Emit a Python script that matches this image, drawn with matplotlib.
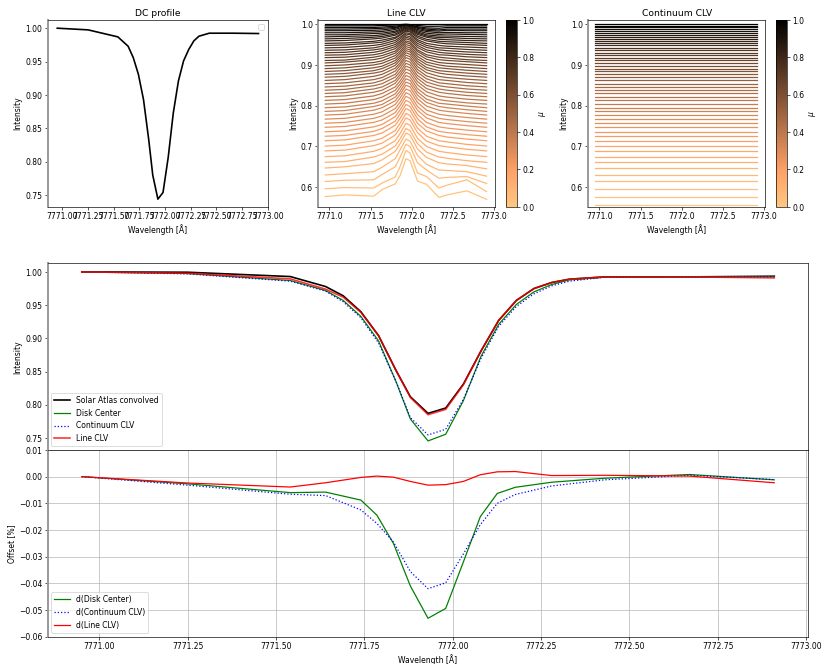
import numpy as np
import matplotlib
matplotlib.use("Agg")
import matplotlib.pyplot as plt

plt.rcParams['font.size'] = 9.3
plt.rcParams['legend.fontsize'] = 9.3
plt.rcParams['axes.labelpad'] = 3.2
plt.rcParams['axes.titlepad'] = 5.0
plt.rcParams['xtick.major.size'] = 3.2
plt.rcParams['ytick.major.size'] = 3.2
plt.rcParams['xtick.major.pad'] = 3.2
plt.rcParams['ytick.major.pad'] = 3.2

W = 830.0
H = 664.0

# ---- spectra ----
wave = [7770.95, 7771.25, 7771.54, 7771.64, 7771.69, 7771.74, 7771.79, 7771.84, 7771.88, 7771.93, 7771.98,
        7772.03, 7772.08, 7772.13, 7772.18, 7772.23, 7772.28, 7772.33, 7772.43, 7772.67, 7772.91]
dc_profile = [1.0, 0.9975, 0.987, 0.973, 0.956, 0.931, 0.893, 0.834, 0.780, 0.744, 0.754,
              0.806, 0.873, 0.921, 0.951, 0.968, 0.981, 0.988, 0.9925, 0.9925, 0.992]
atlas = [1.0, 0.9995, 0.993, 0.978, 0.964, 0.940, 0.904, 0.851, 0.812, 0.787, 0.795,
         0.831, 0.881, 0.927, 0.957, 0.975, 0.984, 0.989, 0.9925, 0.9925, 0.9935]
disk = [1.0, 0.9975, 0.987, 0.972, 0.957, 0.933, 0.896, 0.834, 0.7785, 0.7455, 0.7555,
        0.806, 0.873, 0.921, 0.951, 0.970, 0.981, 0.988, 0.992, 0.9925, 0.993]
cont = [1.0, 0.997, 0.986, 0.971, 0.955, 0.931, 0.893, 0.834, 0.7806, 0.7545, 0.763,
        0.808, 0.870, 0.918, 0.948, 0.967, 0.979, 0.986, 0.992, 0.9925, 0.993]
line = [1.0, 0.998, 0.9895, 0.974, 0.962, 0.939, 0.904, 0.851, 0.811, 0.785, 0.793,
        0.830, 0.881, 0.927, 0.957, 0.975, 0.984, 0.989, 0.9925, 0.9925, 0.991]

# ---- offsets from the lower panel ----
wave_d = [7770.95, 7771.25, 7771.54, 7771.64, 7771.74, 7771.785, 7771.832, 7771.88, 7771.93, 7771.98,
          7772.03, 7772.078, 7772.126, 7772.177, 7772.28, 7772.43, 7772.67, 7772.91]
d_disk = [0.0, -0.0027, -0.0060, -0.0058, -0.0088, -0.0144, -0.0250, -0.0410, -0.0531, -0.0494,
          -0.0320, -0.0150, -0.0063, -0.0040, -0.0021, -0.0006, 0.0008, -0.0012]
d_cont = [0.0, -0.0032, -0.0066, -0.0071, -0.0125, -0.0175, -0.0245, -0.0356, -0.0420, -0.0398,
          -0.0290, -0.0180, -0.0100, -0.0067, -0.0035, -0.0012, 0.0005, -0.0011]
d_line = [0.0, -0.0024, -0.0039, -0.0023, -0.0003, 0.0002, -0.0002, -0.0018, -0.0032, -0.0030,
          -0.0018, 0.0007, 0.0018, 0.0019, 0.0004, 0.0005, 0.0002, -0.0023]

# ---- centre to limb panels ----
mu_values = [0.00, 0.02, 0.04, 0.06, 0.08, 0.10, 0.12, 0.14, 0.16, 0.18, 0.20, 0.22, 0.24, 0.26, 0.28, 0.30, 0.32,
             0.34, 0.36, 0.38, 0.40, 0.42, 0.44, 0.46, 0.48, 0.50, 0.52, 0.54, 0.56, 0.58, 0.60, 0.62, 0.64, 0.66,
             0.68, 0.70, 0.72, 0.74, 0.76, 0.78, 0.80, 0.82, 0.84, 0.86, 0.88, 0.90, 0.92, 0.94, 0.96, 0.98, 1.00]
cont_levels = [0.556, 0.577, 0.596, 0.614, 0.630, 0.647, 0.661, 0.675, 0.689, 0.701, 0.714, 0.725, 0.736,
               0.747, 0.757, 0.767, 0.777, 0.786, 0.795, 0.804, 0.813, 0.822, 0.830, 0.838, 0.846, 0.854,
               0.862, 0.870, 0.877, 0.884, 0.891, 0.898, 0.905, 0.911, 0.918, 0.924, 0.930, 0.936, 0.942,
               0.948, 0.953, 0.959, 0.964, 0.969, 0.974, 0.979, 0.984, 0.988, 0.992, 0.996, 1.000]

wave_clv = [7770.95, 7771.19, 7771.54, 7771.64, 7771.80, 7771.86, 7771.93, 7771.98,
            7772.07, 7772.18, 7772.33, 7772.43, 7772.67, 7772.91]
# height of each line CLV curve above its continuum level, in 0.001 units, mu = 0.02 ... 1.00
line_above_cont = [
    [0, 4, 1, 17, 31, 52, 93, 88, 38, 30, -2, 4, 14, -7],
    [0, 3, 2, 14, 29, 55, 94, 88, 39, 30, 2, 9, 22, -7],
    [0, 3, 4, 17, 36, 60, 91, 86, 46, 28, 8, 10, 12, -5],
    [0, 3, 8, 19, 40, 62, 88, 83, 48, 26, 12, 11, 8, -3],
    [0, 3, 11, 20, 41, 60, 86, 81, 47, 26, 13, 10, 6, -2],
    [0, 2, 13, 20, 40, 58, 83, 78, 46, 25, 13, 10, 4, 0],
    [0, 2, 13, 20, 39, 57, 82, 77, 45, 25, 13, 10, 4, 0],
    [0, 2, 13, 19, 39, 57, 81, 76, 45, 24, 13, 10, 4, 0],
    [0, 2, 13, 19, 38, 56, 80, 75, 44, 24, 13, 10, 4, 0],
    [0, 2, 13, 19, 38, 55, 79, 74, 43, 24, 13, 9, 4, 0],
    [0, 2, 12, 19, 37, 55, 78, 73, 43, 23, 12, 9, 4, 0],
    [0, 2, 12, 18, 37, 54, 77, 72, 42, 23, 12, 9, 4, 0],
    [0, 2, 12, 18, 36, 53, 76, 71, 42, 23, 12, 9, 4, 0],
    [0, 2, 12, 18, 36, 52, 75, 70, 41, 22, 12, 9, 4, 0],
    [0, 2, 12, 18, 36, 52, 74, 70, 41, 22, 12, 9, 4, 0],
    [0, 2, 12, 18, 35, 51, 73, 69, 40, 22, 12, 9, 4, 0],
    [0, 2, 12, 17, 35, 50, 72, 68, 40, 22, 12, 9, 4, 0],
    [0, 2, 11, 17, 34, 50, 71, 67, 39, 21, 11, 9, 4, 0],
    [0, 2, 11, 17, 34, 49, 70, 66, 38, 21, 11, 8, 3, 0],
    [0, 2, 11, 17, 33, 48, 69, 65, 38, 21, 11, 8, 3, 0],
    [0, 2, 11, 16, 33, 48, 68, 64, 37, 20, 11, 8, 3, 0],
    [0, 2, 11, 16, 32, 47, 67, 63, 37, 20, 11, 8, 3, 0],
    [0, 2, 11, 16, 32, 46, 66, 62, 36, 20, 11, 8, 3, 0],
    [0, 2, 10, 16, 31, 46, 65, 61, 36, 20, 10, 8, 3, 0],
    [0, 2, 10, 15, 31, 45, 64, 60, 35, 19, 10, 8, 3, 0],
    [0, 2, 10, 15, 30, 43, 62, 58, 34, 19, 10, 7, 3, 0],
    [0, 2, 10, 14, 29, 42, 60, 56, 33, 18, 10, 7, 3, 0],
    [0, 2, 9, 14, 28, 41, 58, 55, 32, 17, 9, 7, 3, 0],
    [0, 2, 9, 13, 27, 39, 56, 53, 31, 17, 9, 7, 3, 0],
    [0, 2, 9, 13, 26, 38, 54, 51, 30, 16, 9, 6, 3, 0],
    [0, 2, 8, 12, 25, 36, 52, 49, 29, 16, 8, 6, 3, 0],
    [0, 2, 8, 12, 24, 35, 50, 47, 28, 15, 8, 6, 3, 0],
    [0, 1, 8, 12, 23, 34, 48, 45, 26, 14, 8, 6, 2, 0],
    [0, 1, 7, 11, 22, 32, 46, 43, 25, 14, 7, 6, 2, 0],
    [0, 1, 7, 11, 21, 31, 44, 41, 24, 13, 7, 5, 2, 0],
    [0, 1, 7, 10, 20, 29, 42, 39, 23, 13, 7, 5, 2, 0],
    [0, 1, 6, 10, 19, 28, 40, 38, 22, 12, 6, 5, 2, 0],
    [0, 1, 6, 9, 18, 26, 37, 35, 20, 11, 6, 4, 2, 0],
    [0, 1, 6, 8, 17, 25, 35, 33, 19, 11, 6, 4, 2, 0],
    [0, 1, 5, 8, 15, 22, 32, 30, 18, 10, 5, 4, 2, 0],
    [0, 1, 5, 7, 14, 20, 29, 27, 16, 9, 4, 3, 1, 0],
    [0, 1, 4, 6, 12, 18, 26, 24, 14, 7, 3, 3, 1, 0],
    [0, 1, 3, 5, 11, 16, 23, 21, 12, 5, 2, 2, 1, 0],
    [0, 0, 3, 4, 9, 14, 20, 18, 10, 4, 1, 2, 1, 0],
    [0, 0, 2, 3, 8, 12, 17, 15, 8, 3, 0, 1, 0, 0],
    [0, 0, 1, 2, 6, 10, 14, 12, 6, 1, -1, 1, 0, 0],
    [0, 0, 1, 2, 4, 7, 10, 9, 4, 0, -2, 0, 0, 0],
    [0, 0, 0, 1, 3, 5, 7, 6, 2, -1, -2, 0, 0, 0],
    [0, 0, 0, 1, 2, 3, 4, 3, 1, -1, -1, 0, 0, 0],
    [0, 0, 0, 0, 0, 0, 0, 0, 0, 0, 0, 0, 0, 0],
]

top_ticks = [7771.0, 7771.25, 7771.5, 7771.75, 7772.0, 7772.25, 7772.5, 7772.75, 7773.0]
top_ticklabels = ["7771.00", "7771.25", "7771.50", "7771.75", "7772.00", "7772.25", "7772.50", "7772.75", "7773.00"]


def px_axes(fig, left, right, top, bottom):
    # axes box given in pixels of the final picture, y measured from the top
    return fig.add_axes([left / W, 1 - bottom / H, (right - left) / W, (bottom - top) / H])


def soft_spines(ax):
    # the left frame line is wide and grey in the reference
    ax.spines['left'].set_color('#9a9a9a')
    ax.spines['left'].set_linewidth(2.4)


def add_mu_colorbar(fig, sm, left, right):
    cax = px_axes(fig, left, right, 20, 207)
    cbar = fig.colorbar(sm, cax=cax)
    cbar.set_label(r"$\mu$")


fig = plt.figure(figsize=(14, 11.2))
cmap = plt.get_cmap('copper_r')
sm = plt.cm.ScalarMappable(cmap=cmap, norm=plt.Normalize(0, 1))

# DC profile
ax1 = px_axes(fig, 47.5, 268, 20, 207)
ax1.plot(wave, dc_profile, color='black', linewidth=2)
ax1.set_xlim(7770.855, 7773.003)
ax1.set_ylim(0.7324, 1.0125)
ax1.set_xticks(top_ticks)
ax1.set_xticklabels(top_ticklabels)
ax1.set_title("DC profile")
ax1.set_xlabel("Wavelength [Å]")
ax1.set_ylabel("Intensity")
ax1.legend()
soft_spines(ax1)

# Line CLV
ax2 = px_axes(fig, 318, 495, 20, 207)
for i in range(0, len(line_above_cont)):
    curve = cont_levels[i + 1] + np.array(line_above_cont[i]) * 0.001
    ax2.plot(wave_clv, curve, color=cmap(mu_values[i + 1]), linewidth=1.5)
ax2.set_xlim(7770.863, 7773.013)
ax2.set_ylim(0.5516, 1.0107)
ax2.set_title("Line CLV")
ax2.set_xlabel("Wavelength [Å]")
ax2.set_ylabel("Intensity")
soft_spines(ax2)
add_mu_colorbar(fig, sm, 505.7, 516.7)

# Continuum CLV
ax3 = px_axes(fig, 588, 765, 20, 207)
for i in range(0, len(cont_levels)):
    ax3.plot([wave_clv[0], wave_clv[-1]], [cont_levels[i], cont_levels[i]], color=cmap(mu_values[i]), linewidth=1.5)
ax3.set_xlim(7770.863, 7773.013)
ax3.set_ylim(0.5516, 1.0107)
ax3.set_title("Continuum CLV")
ax3.set_xlabel("Wavelength [Å]")
ax3.set_ylabel("Intensity")
soft_spines(ax3)
add_mu_colorbar(fig, sm, 775.7, 786.7)

# big comparison panel
ax4 = px_axes(fig, 47.5, 808, 263.3, 450)
ax4.plot(wave, atlas, color='black', linewidth=2, label="Solar Atlas convolved")
ax4.plot(wave, disk, color='green', label="Disk Center")
ax4.plot(wave, cont, color='blue', linestyle=':', label="Continuum CLV")
ax4.plot(wave, line, color='red', linewidth=2, alpha=0.8, label="Line CLV")
ax4.set_xlim(7770.853, 7773.006)
ax4.set_ylim(0.7319, 1.0131)
ax4.set_ylabel("Intensity")
ax4.tick_params(labelbottom=False)
ax4.legend(loc='lower left')
soft_spines(ax4)

# offsets
ax5 = px_axes(fig, 47.5, 808, 450, 636.7)
ax5.plot(wave_d, d_disk, color='green', label="d(Disk Center)")
ax5.plot(wave_d, d_cont, color='blue', linestyle=':', label="d(Continuum CLV)")
ax5.plot(wave_d, d_line, color='red', label="d(Line CLV)")
ax5.set_xlim(7770.853, 7773.006)
ax5.set_ylim(-0.06, 0.01)
ax5.set_xticks(top_ticks)
ax5.set_xticklabels(top_ticklabels)
ax5.set_xlabel("Wavelength [Å]")
ax5.set_ylabel("Offset [%]")
ax5.grid(True)
ax5.legend(loc='lower left')
soft_spines(ax5)

plt.savefig('out.png', dpi=59.3)
